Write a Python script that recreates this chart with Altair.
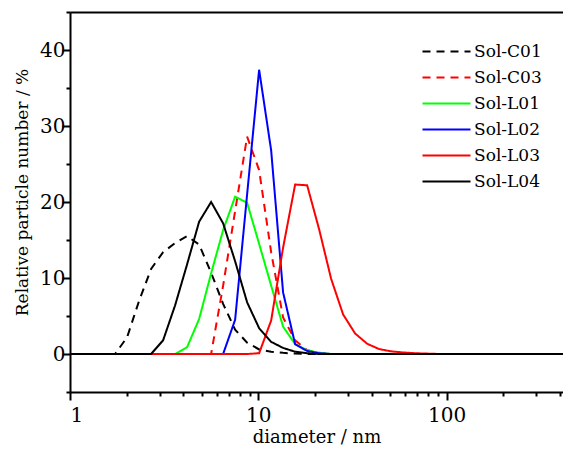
import altair as alt
import pandas as pd

# Malvern size bins (nm)
diameter = [0.9649, 1.117, 1.294, 1.499, 1.736, 2.010, 2.328, 2.696, 3.122, 3.615,
            4.187, 4.849, 5.615, 6.503, 7.531, 8.721, 10.10, 11.70, 13.54, 15.69,
            18.17, 21.04, 24.36, 28.21, 32.67, 37.84, 43.82, 50.75, 58.77, 68.06,
            78.82, 91.28, 105.7, 122.4, 141.8, 164.2, 190.1, 220.2, 255.0, 295.3,
            342.0, 396.1, 458.7]

sol_c01 = [0, 0, 0, 0, 0, 2.2, 7.0, 11.2, 13.4, 14.6,
           15.5, 14.4, 10.7, 6.6, 3.2, 1.5, 0.6, 0.3, 0.15, 0.05,
           0, 0, 0, 0, 0, 0, 0, 0, 0, 0,
           0, 0, 0, 0, 0, 0, 0, 0, 0, 0,
           0, 0, 0]
sol_c03 = [0, 0, 0, 0, 0, 0, 0, 0, 0, 0,
           0, 0, 0, 9.0, 18.8, 28.6, 24.2, 13.4, 4.8, 1.8,
           0.5, 0.15, 0, 0, 0, 0, 0, 0, 0, 0,
           0, 0, 0, 0, 0, 0, 0, 0, 0, 0,
           0, 0, 0]
sol_l01 = [0, 0, 0, 0, 0, 0, 0, 0, 0, 0,
           0.9, 4.6, 10.6, 16.3, 20.7, 19.9, 14.5, 9.0, 3.6, 1.3,
           0.5, 0.15, 0, 0, 0, 0, 0, 0, 0, 0,
           0, 0, 0, 0, 0, 0, 0, 0, 0, 0,
           0, 0, 0]
sol_l02 = [0, 0, 0, 0, 0, 0, 0, 0, 0, 0,
           0, 0, 0, 0, 4.5, 21.0, 37.4, 26.8, 8.1, 1.3,
           0.4, 0.1, 0, 0, 0, 0, 0, 0, 0, 0,
           0, 0, 0, 0, 0, 0, 0, 0, 0, 0,
           0, 0, 0]
sol_l03 = [0, 0, 0, 0, 0, 0, 0, 0, 0, 0,
           0, 0, 0, 0, 0, 0, 0.1, 4.4, 14.0, 22.3,
           22.2, 16.4, 9.9, 5.2, 2.7, 1.35, 0.65, 0.35, 0.2, 0.1,
           0.05, 0, 0, 0, 0, 0, 0, 0, 0, 0,
           0, 0, 0]
sol_l04 = [0, 0, 0, 0, 0, 0, 0, 0, 1.8, 6.4,
           11.8, 17.4, 20.0, 17.2, 12.2, 6.8, 3.4, 1.6, 0.8, 0.3,
           0.1, 0, 0, 0, 0, 0, 0, 0, 0, 0,
           0, 0, 0, 0, 0, 0, 0, 0, 0, 0,
           0, 0, 0]

names = ["Sol-C01", "Sol-C03", "Sol-L01", "Sol-L02", "Sol-L03", "Sol-L04"]
series = [sol_c01, sol_c03, sol_l01, sol_l02, sol_l03, sol_l04]
colors = ["#000000", "#ff0000", "#00ff00", "#0000ff", "#ff0000", "#000000"]
dashes = [[8, 6], [8, 6], [1, 0], [1, 0], [1, 0], [1, 0]]

x_major = [1, 10, 100]
x_minor = [2, 3, 4, 5, 6, 7, 8, 9, 20, 30, 40, 50, 60, 70, 80, 90, 200, 300, 400]
y_major = [0, 10, 20, 30, 40]
y_minor = [-5, 5, 15, 25, 35, 45]

rows = []
for name, vals in zip(names, series):
    for d, v in zip(diameter, vals):
        rows.append({"diameter": d, "value": v, "sample": name})
df = pd.DataFrame(rows)

FONT = "DejaVu Serif"
x_scale = alt.Scale(type="log", domain=[1, 415], nice=False)
y_scale = alt.Scale(domain=[-5, 45], nice=False, zero=False)

# long horizontal legend stroke drawn with a small symbol size keeps rows compact
leg = dict(title=None, orient="none", legendX=368, legendY=31,
           symbolType="M-4,0L4,0", symbolSize=144, symbolStrokeWidth=2,
           labelFont=FONT, labelFontSize=17, labelColor="black",
           rowPadding=8, labelOffset=19)

base = alt.Chart(df)

lines = base.mark_line(strokeWidth=2, clip=True).encode(
    x=alt.X("diameter:Q", scale=x_scale,
            axis=alt.Axis(orient="bottom", offset=0, values=x_major, format="d", tickSize=8,
                          labelPadding=5, title="diameter / nm", titlePadding=3,
                          titleFontSize=18)),
    y=alt.Y("value:Q", scale=y_scale,
            axis=alt.Axis(orient="left", offset=0, values=y_major, tickSize=8, labelPadding=-3,
                          title="Relative particle number / %", titleFontSize=17,
                          titleX=-43, titleY=180, titleBaseline="alphabetic")),
    color=alt.Color("sample:N", scale=alt.Scale(domain=names, range=colors),
                    legend=alt.Legend(**leg)),
    strokeDash=alt.StrokeDash("sample:N", scale=alt.Scale(domain=names, range=dashes),
                              legend=alt.Legend(**leg)),
    order=alt.Order("sample:N"),
)

minor = base.mark_line(opacity=0, clip=True).encode(
    x=alt.X("diameter:Q", scale=x_scale,
            axis=alt.Axis(orient="bottom", offset=0, values=x_minor, labels=False,
                          domain=False, tickSize=4, title=None)),
    y=alt.Y("value:Q", scale=y_scale,
            axis=alt.Axis(orient="left", offset=0, values=y_minor, labels=False,
                          domain=False, tickSize=4, title=None)),
    detail="sample:N",
)

frame = base.mark_line(opacity=0, clip=True).encode(
    x=alt.X("diameter:Q", scale=x_scale,
            axis=alt.Axis(orient="top", offset=0, ticks=False, labels=False,
                          domain=True, title=None)),
    y=alt.Y("value:Q", scale=y_scale, axis=None),
    detail="sample:N",
)

chart = alt.layer(lines, minor, frame).resolve_scale(
    x="shared", y="shared"
).resolve_axis(
    x="independent", y="independent"
).properties(
    width=493, height=380,
    autosize=alt.AutoSizeParams(type="none"),
    padding={"left": 62, "top": 4, "right": 0, "bottom": 53},
).configure_view(
    stroke=None
).configure_axis(
    grid=False, domainColor="black", domainWidth=2, tickColor="black", tickWidth=2,
    labelFont=FONT, labelFontSize=20, labelColor="black",
    titleFont=FONT, titleFontWeight="normal", titleColor="black",
)

chart.save("out.html", embed_options={"renderer": "svg", "actions": False})
